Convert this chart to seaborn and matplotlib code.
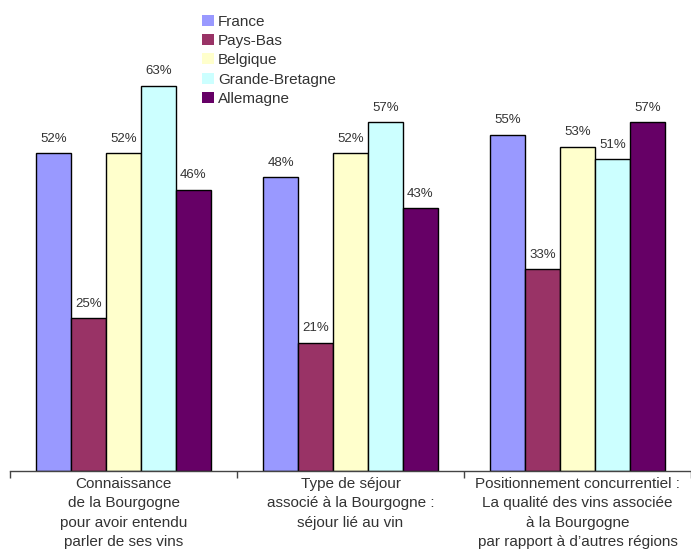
import pandas as pd
import seaborn as sns
import matplotlib.pyplot as plt

# ── Data ──────────────────────────────────────────────────────────────────────
categories = [
    "Connaissance\nde la Bourgogne\npour avoir entendu\nparler de ses vins",
    "Type de séjour\nassocié à la Bourgogne :\nséjour lié au vin",
    "Positionnement concurrentiel :\nLa qualité des vins associée\nà la Bourgogne\npar rapport à d’autres régions",
]
countries = ["France", "Pays-Bas", "Belgique", "Grande-Bretagne", "Allemagne"]
france = [52, 48, 55]
pays_bas = [25, 21, 33]
belgique = [52, 52, 53]
grande_bretagne = [63, 57, 51]
allemagne = [46, 43, 57]

COLORS = ["#9999FF", "#993366", "#FFFFCC", "#CCFFFF", "#660066"]
TEXT = "#333333"

rows = []
for country, vals in zip(countries, [france, pays_bas, belgique, grande_bretagne, allemagne]):
    for cat, v in zip(categories, vals):
        rows.append({"Catégorie": cat, "Pays": country, "Valeur": v})
df = pd.DataFrame(rows)

# ── Plot ──────────────────────────────────────────────────────────────────────
sns.set_style("white")
plt.rcParams["font.family"] = ["Liberation Sans", "DejaVu Sans"]

fig = plt.figure(figsize=(6.91, 5.49), dpi=100)
ax = fig.add_axes([0.0145, 0.142, 0.9855, 0.78])

sns.barplot(
    data=df, x="Catégorie", y="Valeur", hue="Pays",
    order=categories, hue_order=countries, palette=COLORS,
    width=0.77, edgecolor="black", linewidth=1.0, saturation=1,
    errorbar=None, ax=ax, legend=True,
)

for cont in ax.containers:
    ax.bar_label(cont, fmt="%d%%", padding=6, fontsize=9.5, color=TEXT)

ax.set_ylim(0, 70)
ax.set_xlim(-0.5, 2.5)
ax.set_xlabel("")
ax.set_ylabel("")
ax.set_yticks([])
for s in ["top", "right", "left"]:
    ax.spines[s].set_visible(False)
ax.spines["bottom"].set_color("#444444")
ax.spines["bottom"].set_linewidth(1.0)

# group separator ticks on the baseline, labels centred between them
ax.set_xticks([-0.5, 0.5, 1.5, 2.5])
ax.set_xticklabels([])
ax.tick_params(axis="x", direction="out", length=5, width=1, color="#444444", bottom=True)
for i, cat in enumerate(categories):
    ax.text(i, -0.9, cat, ha="center", va="top", fontsize=11,
            color=TEXT, linespacing=1.5, transform=ax.transData, clip_on=False)

leg = ax.legend(
    loc="upper left", bbox_to_anchor=(0.277, 0.993), bbox_transform=fig.transFigure,
    frameon=False, fontsize=11, handlelength=0.75, handleheight=0.75,
    handletextpad=0.3, labelspacing=0.35, borderaxespad=0.3,
)
for t in leg.get_texts():
    t.set_color(TEXT)
for h in leg.legend_handles:
    h.set_edgecolor("none")

fig.savefig("out.png", dpi=100)
